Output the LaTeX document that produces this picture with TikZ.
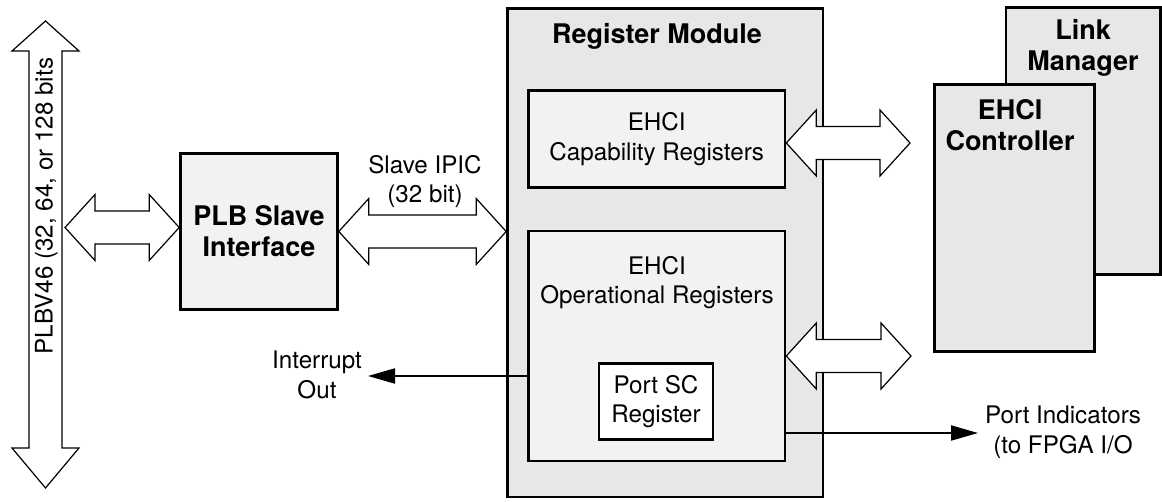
\documentclass[tikz,border=0pt]{standalone}
\usepackage{fontspec}
\setmainfont{TeX Gyre Heros}
\usetikzlibrary{calc,arrows.meta}

\definecolor{modfill}{HTML}{E6E7E8}
\definecolor{regfill}{HTML}{F1F2F3}

\tikzset{
  box/.style={draw=black, line width=2.6pt, inner sep=0pt, align=center},
  bus/.style={draw=black, line width=1.2pt, fill=white, line join=miter},
  sig/.style={line width=2pt, -{Triangle[length=27pt,width=15pt]}},
  reg/.style={font=\fontsize{24.2}{29.5}\selectfont},
  hd/.style={font=\bfseries\fontsize{27}{31}\selectfont},
  lbl/.style={inner sep=0pt, align=center, anchor=north},
}

% horizontal double-headed bus arrow between two points on one level
\newcommand\hbusarrow[2]{%
  \path[bus] let \p1=#1, \p2=#2 in
    (\x1,\y1) -- (\x1+30pt,\y1+33pt) -- (\x1+30pt,\y1+16.5pt)
    -- (\x2-30pt,\y1+16.5pt) -- (\x2-30pt,\y1+33pt) -- (\x2,\y1)
    -- (\x2-30pt,\y1-33pt) -- (\x2-30pt,\y1-16.5pt)
    -- (\x1+30pt,\y1-16.5pt) -- (\x1+30pt,\y1-33pt) -- cycle;}

\begin{document}
\begin{tikzpicture}[x=1pt,y=-1pt]
\useasboundingbox (0,0) rectangle (1162,502);

% link manager sits behind the controller
\node[box, fill=modfill, minimum width=154.5pt, minimum height=267pt] (link) at (1083.25,141) {};
\node[box, fill=modfill, minimum width=160pt, minimum height=267pt] (ctrl) at (1014.5,218) {};
\node[lbl, hd] (linklbl) at (1083,19) {Link\\Manager};
\node[lbl, hd] (ctrllbl) at (1010,99) {EHCI\\Controller};

% register module and its contents
\node[box, fill=modfill, minimum width=315.5pt, minimum height=488.5pt] (regmod) at (665.25,252.75) {};
\node[lbl, hd] (regmodlbl) at (657,23) {Register Module};
\node[box, reg, fill=regfill, minimum width=256.5pt, minimum height=97pt] (cap) at (656.75,139) {EHCI\\Capability Registers};
\node[box, fill=regfill, minimum width=256.5pt, minimum height=230pt] (op) at (656.75,346) {};
\node[lbl, reg] (oplbl) at (657,256) {EHCI\\Operational Registers};
\node[box, reg, fill=white, minimum width=114pt, minimum height=76pt] (port) at (656,401.5) {Port SC\\Register};

% PLB slave interface
\node[box, hd, fill=regfill, minimum width=157pt, minimum height=156pt] (plb) at (259,231.5) {PLB Slave\\Interface};

% PLBV46 bus
\coordinate (bustop) at (45.5,21);
\coordinate (busbot) at (45.5,488);
\path[bus] let \p1=(bustop), \p2=(busbot) in
  (\x1,\y1) -- (\x1+33.5pt,\y1-30pt) -- (\x1+16.5pt,\y1-30pt)
  -- (\x1+16.5pt,\y2+40pt) -- (\x1+33.5pt,\y2+40pt) -- (\x1,\y2)
  -- (\x1-33.5pt,\y2+40pt) -- (\x1-16.5pt,\y2+40pt)
  -- (\x1-16.5pt,\y1-30pt) -- (\x1-33.5pt,\y1-30pt) -- cycle;
\node[reg, rotate=90, anchor=base, inner sep=0pt] (buslbl) at (52.5,206) {PLBV46 (32, 64, or 128 bits};

% bus connections
\coordinate (plbtap) at (65,227.5);
\hbusarrow{(plbtap)}{(plb.west |- plbtap)}
\hbusarrow{(plb.east)}{(regmod.west |- plb.east)}
\node[lbl, reg] (ipiclbl) at (425,155) {Slave IPIC\\(32 bit)};

\coordinate (capbus) at (910,143);
\hbusarrow{(cap.east |- capbus)}{(capbus)}
\coordinate (opbus) at (911,356);
\hbusarrow{(op.east |- opbus)}{(opbus)}

% single signals
\coordinate (irqout) at (368,376);
\draw[sig] (op.west |- irqout) -- (irqout);
\node[lbl, reg] (irqlbl) at (317,351) {Interrupt\\Out};

\coordinate (portout) at (978,433);
\draw[sig] (op.east |- portout) -- (portout);
\node[lbl, reg] (portlbl) at (1063,406) {Port Indicators\\(to FPGA I/O};

\end{tikzpicture}
\end{document}
